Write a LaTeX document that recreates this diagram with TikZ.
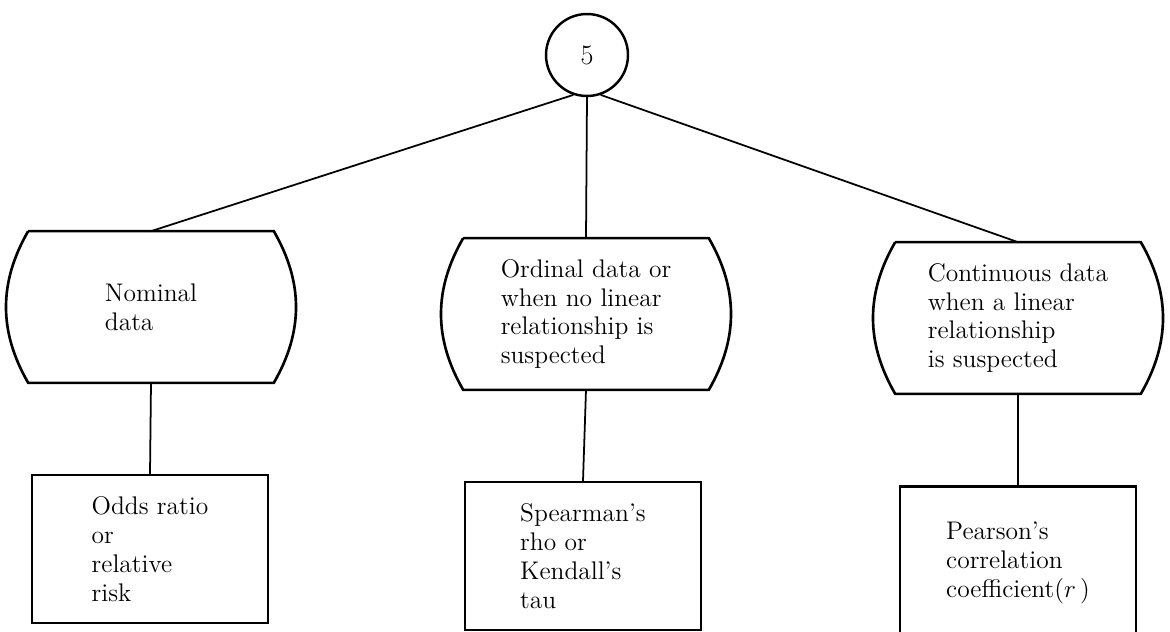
\documentclass[tikz,border=0pt]{standalone}
\usepackage{amsmath}
\usepackage{tikz}

\begin{document}
\begin{tikzpicture}[x=0.02cm, y=-0.02cm,
    txt/.style={align=left, font=\fontsize{14.5}{16.5}\selectfont},
    choice/.style={txt, minimum width=4.9cm, minimum height=3.02cm, inner sep=0pt},
    result/.style={txt, draw, line width=1.3pt, minimum width=4.72cm, minimum height=2.96cm, inner sep=0pt}]
        \useasboundingbox (0,0) rectangle (1170,632);
        \node[circle, draw, line width=1.4pt, minimum size=1.64cm, font=\fontsize{16}{18}\selectfont] (five) at (587,55) {5};
        \node[choice] (nom) at (151,307) {Nominal\\data};
        \node[choice] (ord) at (586,314) {Ordinal data or\\when no linear\\relationship is\\suspected};
        \node[choice] (cont) at (1018,318) {Continuous data\\when a linear\\relationship\\is suspected};
        \node[result] (odds) at (150,549) {Odds ratio\\or\\relative\\risk};
        \node[result] (spear) at (583,556) {Spearman's\\rho or\\Kendall's\\tau};
        \node[result, minimum height=3.06cm] (pear) at (1018,563) {Pearson's\\correlation\\coefficient($r$\,)};
        \foreach \n in {nom,ord,cont}{
            \draw[line width=1.5pt] (\n.north west) -- (\n.north east) to[bend left=30] (\n.south east)
                -- (\n.south west) to[bend left=30] (\n.north west);
        }
        \draw[line width=1pt] (five.251) -- (nom.north);
        \draw[line width=1pt] (five.south) -- (ord.north);
        \draw[line width=1pt] (five.289) -- (cont.north);
        \foreach \a/\b in {nom/odds,ord/spear,cont/pear}{
            \draw[line width=1pt] (\a.south) -- (\b.north);
        }
    \end{tikzpicture}
\end{document}
